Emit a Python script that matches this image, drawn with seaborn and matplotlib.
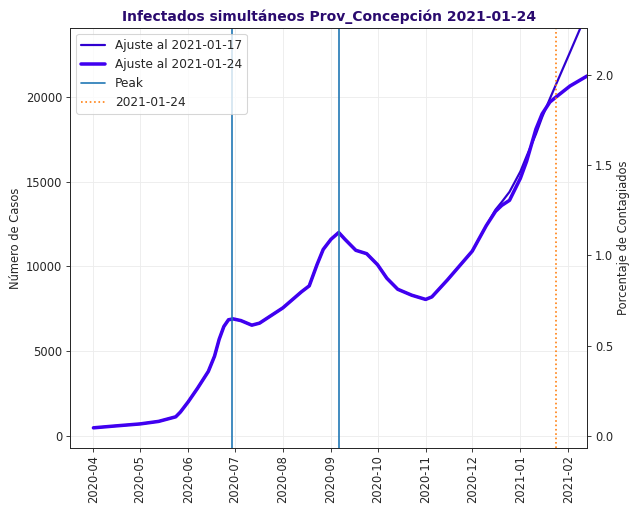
import pandas as pd
import seaborn as sns
import matplotlib
matplotlib.use("Agg")
import matplotlib.pyplot as plt
import matplotlib.dates as mdates

# --- datos ---
fechas_ajuste = [
    "2020-04-01", "2020-04-15", "2020-05-01", "2020-05-13", "2020-05-24", "2020-05-27",
    "2020-06-01", "2020-06-07", "2020-06-14", "2020-06-18", "2020-06-21", "2020-06-24",
    "2020-06-27", "2020-06-30", "2020-07-05", "2020-07-12", "2020-07-17", "2020-08-01",
    "2020-08-13", "2020-08-18", "2020-08-23", "2020-08-27", "2020-09-01", "2020-09-06",
    "2020-09-10", "2020-09-17", "2020-09-24", "2020-10-01", "2020-10-07", "2020-10-14",
    "2020-10-23", "2020-11-01", "2020-11-05", "2020-11-15", "2020-12-01", "2020-12-10",
    "2020-12-16", "2020-12-20", "2020-12-25", "2021-01-01", "2021-01-05", "2021-01-11",
    "2021-01-15", "2021-01-20", "2021-01-24", "2021-02-02", "2021-02-13",
]
casos_0124 = [
    470, 580, 700, 850, 1120, 1400,
    2000, 2800, 3800, 4700, 5700, 6450,
    6850, 6900, 6800, 6530, 6650, 7550,
    8500, 8850, 10100, 11000, 11600, 12000,
    11600, 10950, 10750, 10100, 9300, 8650,
    8300, 8050, 8200, 9200, 10900, 12400,
    13250, 13600, 13900, 15200, 16200, 18100,
    19000, 19700, 20000, 20650, 21240,
]
casos_0117 = [
    470, 580, 700, 850, 1120, 1400,
    2000, 2800, 3800, 4700, 5700, 6450,
    6850, 6900, 6800, 6530, 6650, 7550,
    8500, 8850, 10100, 11000, 11600, 12000,
    11600, 10950, 10750, 10100, 9300, 8650,
    8300, 8050, 8200, 9200, 10900, 12400,
    13350, 13800, 14400, 15600, 16500, 17800,
    18800, 19900, 20750, 22650, 25000,
]
fechas_peak = ["2020-06-29", "2020-09-06"]
fecha_corte = "2021-01-24"
poblacion = 1064500  # para el eje de porcentaje

df = pd.DataFrame({
    "fecha": pd.to_datetime(fechas_ajuste),
    "ajuste_0117": casos_0117,
    "ajuste_0124": casos_0124,
})

# --- grafico ---
sns.set_style("ticks")
plt.rcParams["font.family"] = ["DejaVu Sans"]
plt.rcParams["xtick.labelsize"] = 10.5
plt.rcParams["ytick.labelsize"] = 10.5

DPI = 79
fig = plt.figure(figsize=(632 / DPI, 510 / DPI), dpi=DPI)
ax = fig.add_axes([0.111, 0.122, 0.818, 0.823])

sns.lineplot(data=df, x="fecha", y="ajuste_0117", ax=ax, color="#2f00d0",
             linewidth=2, label="Ajuste al 2021-01-17")
sns.lineplot(data=df, x="fecha", y="ajuste_0124", ax=ax, color="#4000f0",
             linewidth=3.2, label="Ajuste al 2021-01-24")

for i, f in enumerate(fechas_peak):
    ax.axvline(pd.Timestamp(f), color="#1f77b4", linewidth=1.5,
               label="Peak" if i == 0 else None)
ax.axvline(pd.Timestamp(fecha_corte), color="#ff7f0e", linestyle=":",
           linewidth=1.5, label=fecha_corte)

ax.set_xlim(pd.Timestamp("2020-03-17"), pd.Timestamp("2021-02-13"))
ylim = (-708, 24070)
ax.set_ylim(ylim)
ax.xaxis.set_major_locator(mdates.MonthLocator())
ax.xaxis.set_major_formatter(mdates.DateFormatter("%Y-%m"))
ax.tick_params(axis="x", rotation=90)
ax.grid(True, color="#ececec", linewidth=0.8)
ax.set_xlabel("")
ax.set_ylabel("Número de Casos", fontsize=10.5)
ax.legend(loc="upper left", fontsize=11)

ax2 = ax.twinx()
ax2.set_ylim(ylim[0] * 100 / poblacion, ylim[1] * 100 / poblacion)
ax2.set_yticks([0.0, 0.5, 1.0, 1.5, 2.0])
ax2.set_ylabel("Porcentaje de Contagiados", fontsize=10.5)

ax.set_title("Infectados simultáneos Prov_Concepción 2021-01-24",
             fontweight="bold", color="#2a0a6e", fontsize=12.6)

plt.savefig("out.png", dpi=DPI)
